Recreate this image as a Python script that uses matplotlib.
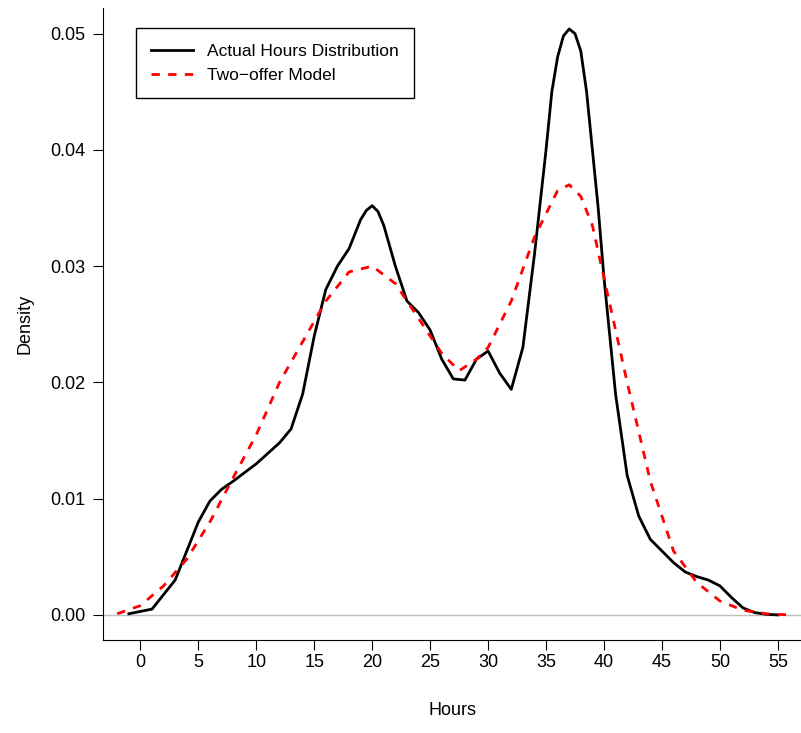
import matplotlib
matplotlib.use("Agg")
import matplotlib.pyplot as plt

plt.rcParams['font.family'] = ['Liberation Sans', 'DejaVu Sans']

actual_x = [-1,1,3,5,6,7,8,10,12,13,14,15,16,17,18,19,19.5,20,20.5,21,22,23,24,25,26,27,28,29,30,31,32,33,34,34.5,35,35.5,36,36.5,37,37.5,38,38.5,39,39.5,40,40.5,41,42,43,44,45,46,47,48,49,50,51,52,53,54,55]
actual_y = [0.0001,0.0005,0.003,0.008,0.0098,0.0108,0.0115,0.013,0.0148,0.016,0.019,0.024,0.028,0.030,0.0315,0.034,0.0348,0.0352,0.0347,0.0335,0.030,0.027,0.026,0.0245,0.022,0.0203,0.0202,0.022,0.0227,0.0208,0.0194,0.023,0.031,0.0355,0.040,0.045,0.048,0.0498,0.0504,0.0500,0.0485,0.045,0.040,0.035,0.029,0.024,0.019,0.012,0.0085,0.0065,0.0055,0.0045,0.0037,0.0033,0.003,0.0025,0.0015,0.0006,0.0002,0.00005,0.0]
model_x = [-2,0,2,4,6,8,10,12,14,16,18,20,22,24,26,27.5,29,30,32,34,36,37,38,39,40,42,44,46,48,50,52,54,56]
model_y = [0.0001,0.0008,0.0025,0.0048,0.008,0.0118,0.0155,0.020,0.0235,0.027,0.0295,0.030,0.0285,0.0255,0.0225,0.021,0.022,0.023,0.027,0.0325,0.0365,0.037,0.036,0.0335,0.029,0.020,0.0115,0.0055,0.0028,0.0012,0.0004,0.0001,0.0]

fig = plt.figure(figsize=(8.01, 7.33), dpi=100)
ax = fig.add_axes([0.129, 0.127, 0.871, 0.862])
ax.axhline(0, color='#bebebe', lw=1)
ax.plot(actual_x, actual_y, color='black', lw=2, label='Actual Hours Distribution', solid_joinstyle='round')
ax.plot(model_x, model_y, color='red', lw=2, ls=(0, (3, 3)), label='Two\u2212offer Model')
ax.set_xlim(-3.2, 57)
ax.set_ylim(-0.00215, 0.0522)
ax.set_xticks(range(0, 56, 5))
ax.set_yticks([0, 0.01, 0.02, 0.03, 0.04, 0.05])
ax.set_yticklabels(['0.00', '0.01', '0.02', '0.03', '0.04', '0.05'])
for s in ['top', 'right']:
    ax.spines[s].set_visible(False)
ax.tick_params(direction='out', length=7, labelsize=13)
ax.tick_params(axis='y', pad=6)
ax.set_xlabel('Hours', fontsize=13, labelpad=22)
ax.set_ylabel('Density', fontsize=13, labelpad=12)
leg = ax.legend(loc='upper left', bbox_to_anchor=(0.034, 0.982), fontsize=12.5, fancybox=False,
                edgecolor='black', framealpha=1, borderpad=0.9, handlelength=2.4)
leg.get_frame().set_linewidth(1)
fig.savefig('out.png', dpi=100)
